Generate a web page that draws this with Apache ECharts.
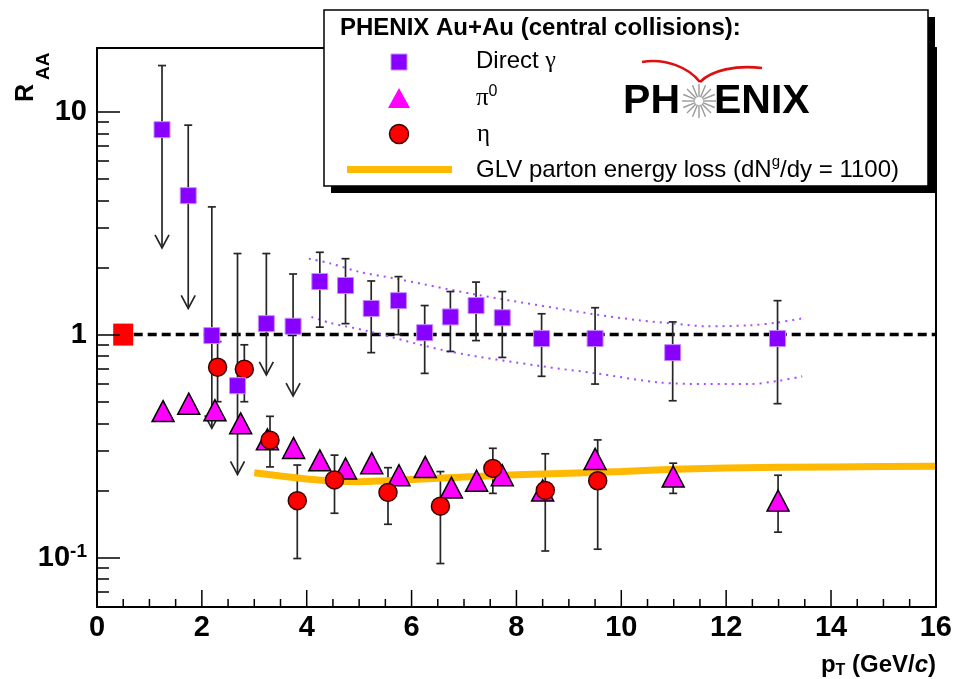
<!DOCTYPE html>
<html>
<head>
<meta charset="utf-8">
<script src="https://cdn.jsdelivr.net/npm/echarts@6.0.0/dist/echarts.min.js"></script>
<style>
  html, body { margin: 0; padding: 0; background: #fff; }
  #chart { width: 955px; height: 679px; }
</style>
</head>
<body>
<div id="chart"></div>
<script>
// direct photons (upper limits where gammaLimit = 1)
const gammaX = [1.24, 1.74, 2.19, 2.68, 3.23, 3.74, 4.25, 4.74, 5.23, 5.75, 6.25, 6.74, 7.23, 7.73, 8.48, 9.5, 10.98, 12.98];
const gammaY = [8.3, 4.2, 0.99, 0.59, 1.12, 1.09, 1.73, 1.66, 1.31, 1.42, 1.02, 1.20, 1.35, 1.19, 0.96, 0.96, 0.83, 0.96];
const gammaHi = [16.1, 8.7, 3.74, 2.31, 2.31, 1.87, 2.34, 2.19, 1.74, 1.82, 1.35, 1.56, 1.72, 1.56, 1.24, 1.32, 1.14, 1.42];
const gammaLo = [2.45, 1.31, 0.38, 0.236, 0.66, 0.53, 1.08, 1.12, 0.83, 1.0, 0.67, 0.84, 0.94, 0.79, 0.65, 0.60, 0.505, 0.49];
const gammaLimit = [1, 1, 1, 1, 1, 1, 0, 0, 0, 0, 0, 0, 0, 0, 0, 0, 0, 0];

// systematic band around direct photons
const bandUpX = [4.04, 4.44, 5.01, 5.71, 7.24, 9.52, 10.34, 11.0, 11.62, 12.44, 12.95, 13.43];
const bandUpY = [2.19, 2.09, 1.91, 1.78, 1.51, 1.23, 1.16, 1.12, 1.09, 1.10, 1.13, 1.18];
const bandLoX = [4.09, 4.44, 5.14, 6.72, 8.5, 9.52, 10.72, 11.62, 12.44, 13.0, 13.45];
const bandLoY = [1.20, 1.13, 1.04, 0.84, 0.72, 0.67, 0.61, 0.60, 0.60, 0.62, 0.65];

// pi0
const pi0X = [1.26, 1.75, 2.25, 2.74, 3.25, 3.75, 4.25, 4.74, 5.24, 5.76, 6.26, 6.76, 7.24, 7.73, 8.5, 9.5, 10.99, 12.99];
const pi0Y = [0.454, 0.49, 0.458, 0.40, 0.339, 0.31, 0.273, 0.251, 0.265, 0.234, 0.255, 0.206, 0.221, 0.234, 0.20, 0.277, 0.231, 0.18];
const pi0Hi = [null, null, null, null, null, null, null, null, null, null, null, null, null, null, null, null, 0.265, 0.234];
const pi0Lo = [null, null, null, null, null, null, null, null, null, null, null, null, null, null, null, null, 0.194, 0.13];

// eta
const etaX = [2.3, 2.81, 3.3, 3.82, 4.53, 5.55, 6.55, 7.55, 8.55, 9.55];
const etaY = [0.714, 0.70, 0.336, 0.18, 0.223, 0.196, 0.17, 0.251, 0.20, 0.221];
const etaHi = [0.93, 0.90, 0.43, 0.26, 0.288, 0.253, 0.243, 0.309, 0.292, 0.337];
const etaLo = [0.50, 0.50, 0.255, 0.099, 0.158, 0.141, 0.094, 0.194, 0.107, 0.109];

// GLV energy loss curve
const glvX = [3.0, 3.5, 4.0, 4.5, 5.0, 5.5, 6.0, 7.0, 8.0, 9.0, 10.0, 11.0, 12.0, 13.0, 14.0, 15.0, 16.0];
const glvY = [0.240, 0.232, 0.225, 0.220, 0.219, 0.221, 0.224, 0.230, 0.235, 0.239, 0.243, 0.249, 0.252, 0.254, 0.255, 0.256, 0.257];

// normalisation box and unity line
const normPoint = [0.5, 1];
const unityLine = [[0.7, 1], [16, 1]];

// axis ticks
const xTickValues = [0, 2, 4, 6, 8, 10, 12, 14, 16];
const xMinorTicks = [0.5, 1, 1.5, 2.5, 3, 3.5, 4.5, 5, 5.5, 6.5, 7, 7.5, 8.5, 9, 9.5, 10.5, 11, 11.5, 12.5, 13, 13.5, 14.5, 15, 15.5];
const yTickValues = [0.1, 1, 10];
const yTickLabels = ['10{sup|-1}', '1', '10'];
const yMinorTicks = [0.07, 0.08, 0.09, 0.2, 0.3, 0.4, 0.5, 0.6, 0.7, 0.8, 0.9, 2, 3, 4, 5, 6, 7, 8, 9];
const yMin = 0.06, yMax = 19.3;

const FONT = '"Liberation Sans", Arial, Helvetica, sans-serif';
const SERIF = '"Liberation Serif", "DejaVu Serif", serif';

const zip = (xs, ys) => xs.map((x, i) => [x, ys[i]]);

function errorItems(xs, ys, hi, lo, lim) {
    const out = [];
    xs.forEach((x, i) => {
        if (hi[i] == null) return;
        out.push([x, ys[i], hi[i], lo[i], lim ? lim[i] : 0]);
    });
    return out;
}

function renderErr(params, api) {
    const x = api.value(0);
    const top = api.coord([x, api.value(2)]);
    const bot = api.coord([x, api.value(3)]);
    const st = { stroke: '#262626', lineWidth: 1.7, fill: null };
    const kids = [
        { type: 'line', shape: { x1: top[0], y1: top[1], x2: bot[0], y2: bot[1] }, style: st },
        { type: 'line', shape: { x1: top[0] - 4, y1: top[1], x2: top[0] + 4, y2: top[1] }, style: st }
    ];
    if (api.value(4)) {
        kids.push({ type: 'polyline', shape: { points: [[bot[0] - 7, bot[1] - 13], [bot[0], bot[1]], [bot[0] + 7, bot[1] - 13]] }, style: st });
    } else {
        kids.push({ type: 'line', shape: { x1: bot[0] - 4, y1: bot[1], x2: bot[0] + 4, y2: bot[1] }, style: st });
    }
    return { type: 'group', children: kids };
}

// x-axis ticks, placed through the x scale on the bottom edge
function renderXTick(params, api) {
    const p = api.coord([api.value(0), yMin]);
    return {
        type: 'line',
        shape: { x1: p[0], y1: p[1], x2: p[0], y2: p[1] - api.value(1) },
        style: { stroke: '#000', lineWidth: 1.5 }
    };
}

const LMIN = Math.log10(yMin), LMAX = Math.log10(yMax);
const majorLog = yTickValues.map(Math.log10);
const minorLog = yMinorTicks.map(Math.log10);

const chart = echarts.init(document.getElementById('chart'));

// star of the logo
const starRays = [];
for (let k = 0; k < 16; k++) {
    const a = k * Math.PI / 8;
    starRays.push({
        type: 'line', z: 105,
        shape: { x1: 699 + 4 * Math.cos(a), y1: 101 + 4 * Math.sin(a), x2: 699 + 17 * Math.cos(a), y2: 101 + 17 * Math.sin(a) },
        style: { stroke: '#9a9a9a', lineWidth: 1.4 }
    });
}

const lineOnly = { show: true, onZero: false, lineStyle: { color: '#000', width: 2 } };

chart.setOption({
    animation: false,
    backgroundColor: '#fff',
    grid: { left: 97, right: 18, top: 48, bottom: 72, show: false },
    xAxis: [
        {
            type: 'value', min: 0, max: 16, position: 'bottom', z: 10,
            axisLine: lineOnly,
            axisTick: { show: false },
            axisLabel: { show: true, customValues: xTickValues, color: '#000', fontFamily: FONT, fontWeight: 'bold', fontSize: 29, margin: 6 },
            splitLine: { show: false }
        },
        {
            type: 'value', min: 0, max: 16, position: 'top', z: 10,
            axisLine: lineOnly, axisTick: { show: false }, axisLabel: { show: false }, splitLine: { show: false }
        }
    ],
    yAxis: [
        {
            type: 'log', logBase: 10, min: yMin, max: yMax, position: 'left', z: 10,
            axisLine: lineOnly,
            axisTick: { show: false }, axisLabel: { show: false }, splitLine: { show: false }
        },
        {
            type: 'value', min: LMIN, max: LMAX, position: 'left', z: 10,
            axisLine: { show: false, onZero: false },
            axisTick: { show: true, inside: true, length: 23, customValues: majorLog, lineStyle: { color: '#000', width: 1.5 } },
            axisLabel: {
                show: true, customValues: majorLog, margin: 10, color: '#000',
                fontFamily: FONT, fontWeight: 'bold', fontSize: 29, lineHeight: 30,
                formatter: v => {
                    const i = majorLog.findIndex(m => Math.abs(m - v) < 1e-6);
                    return i < 0 ? '' : yTickLabels[i];
                },
                rich: { sup: { fontFamily: FONT, fontWeight: 'bold', fontSize: 19, lineHeight: 19, verticalAlign: 'top', color: '#000' } }
            },
            splitLine: { show: false }
        },
        {
            type: 'value', min: LMIN, max: LMAX, position: 'left', z: 10,
            axisLine: { show: false, onZero: false },
            axisTick: { show: true, inside: true, length: 12, customValues: minorLog, lineStyle: { color: '#000', width: 1.5 } },
            axisLabel: { show: false },
            splitLine: { show: false }
        },
        {
            type: 'value', min: LMIN, max: LMAX, position: 'right', z: 10,
            axisLine: lineOnly, axisTick: { show: false }, axisLabel: { show: false }, splitLine: { show: false }
        }
    ],
    series: [
        {
            type: 'custom', renderItem: renderXTick, silent: true, z: 8, clip: false,
            data: xTickValues.map(v => [v, 17]).concat(xMinorTicks.map(v => [v, 8])),
            encode: { x: 0 }
        },
        {
            type: 'line', data: unityLine, symbol: 'none', silent: true, z: 1,
            lineStyle: { color: '#000', width: 3.5, type: [9, 5] }
        },
        {
            type: 'line', data: zip(bandUpX, bandUpY), symbol: 'none', smooth: 0.3, z: 1,
            lineStyle: { color: '#a64dff', width: 2, type: [2, 5] }
        },
        {
            type: 'line', data: zip(bandLoX, bandLoY), symbol: 'none', smooth: 0.3, z: 1,
            lineStyle: { color: '#a64dff', width: 2, type: [2, 5] }
        },
        { type: 'custom', renderItem: renderErr, data: errorItems(gammaX, gammaY, gammaHi, gammaLo, gammaLimit), z: 2, encode: { x: 0, y: 1 } },
        { type: 'custom', renderItem: renderErr, data: errorItems(etaX, etaY, etaHi, etaLo), z: 2, encode: { x: 0, y: 1 } },
        { type: 'custom', renderItem: renderErr, data: errorItems(pi0X, pi0Y, pi0Hi, pi0Lo), z: 2, encode: { x: 0, y: 1 } },
        {
            type: 'line', data: zip(glvX, glvY), symbol: 'none', z: 3,
            lineStyle: { color: '#ffb900', width: 7 }
        },
        {
            type: 'scatter', data: [normPoint], symbol: 'rect', symbolSize: [20, 22], z: 4,
            itemStyle: { color: '#ff0000', opacity: 1 }
        },
        {
            type: 'scatter', data: zip(pi0X, pi0Y), symbol: 'triangle', symbolSize: [22, 21], z: 5,
            itemStyle: { color: '#ff00ff', borderColor: '#000', borderWidth: 1.5, opacity: 1 }
        },
        {
            type: 'scatter', data: zip(etaX, etaY), symbol: 'circle', symbolSize: 18, z: 6,
            itemStyle: { color: '#ff0000', borderColor: '#3a0000', borderWidth: 1.5, opacity: 1 }
        },
        {
            type: 'scatter', data: zip(gammaX, gammaY), symbol: 'rect', symbolSize: 16, z: 7,
            itemStyle: { color: '#8800ff', borderColor: '#c58cff', borderWidth: 1, opacity: 1 }
        }
    ],
    graphic: [
        // axis titles
        {
            type: 'text', x: 26, y: 102, rotation: Math.PI / 2, z: 100,
            style: { text: 'R', fontFamily: FONT, fontWeight: 'bold', fontSize: 25, fill: '#000', align: 'left', verticalAlign: 'middle' }
        },
        {
            type: 'text', x: 44, y: 80, rotation: Math.PI / 2, z: 100,
            style: { text: 'AA', fontFamily: FONT, fontWeight: 'bold', fontSize: 19, fill: '#000', align: 'left', verticalAlign: 'middle' }
        },
        {
            type: 'text', x: 936, y: 665, z: 100,
            style: {
                text: '{b|p}{s|T}{b| (GeV/}{i|c}{b|)}', align: 'right', verticalAlign: 'middle',
                rich: {
                    b: { fontFamily: FONT, fontWeight: 'bold', fontSize: 24, lineHeight: 28, fill: '#000' },
                    i: { fontFamily: FONT, fontWeight: 'bold', fontStyle: 'italic', fontSize: 24, lineHeight: 28, fill: '#000' },
                    s: { fontFamily: FONT, fontWeight: 'bold', fontSize: 16, lineHeight: 16, verticalAlign: 'bottom', fill: '#000' }
                }
            }
        },
        // legend box
        { type: 'rect', z: 101, shape: { x: 331, y: 17, width: 604, height: 176 }, style: { fill: '#000' } },
        { type: 'rect', z: 102, shape: { x: 324, y: 10, width: 604, height: 176 }, style: { fill: '#fff', stroke: '#000', lineWidth: 1.5 } },
        {
            type: 'text', x: 340, y: 28, z: 103,
            style: { text: 'PHENIX Au+Au (central collisions):', fontFamily: FONT, fontWeight: 'bold', fontSize: 24, fill: '#000', align: 'left', verticalAlign: 'middle' }
        },
        { type: 'rect', z: 103, shape: { x: 391, y: 54, width: 16, height: 16 }, style: { fill: '#8800ff', stroke: '#c58cff', lineWidth: 1 } },
        { type: 'polygon', z: 103, shape: { points: [[399, 88], [410, 108], [388, 108]] }, style: { fill: '#ff00ff' } },
        { type: 'circle', z: 103, shape: { cx: 399, cy: 134, r: 9.5 }, style: { fill: '#ff0000', stroke: '#3a0000', lineWidth: 1.5 } },
        { type: 'line', z: 103, shape: { x1: 347, y1: 169.5, x2: 452, y2: 169.5 }, style: { stroke: '#ffb900', lineWidth: 7 } },
        {
            type: 'text', x: 476, y: 61, z: 103,
            style: {
                text: '{t|Direct }{g|γ}', align: 'left', verticalAlign: 'middle',
                rich: { t: { fontFamily: FONT, fontSize: 24, fill: '#000' }, g: { fontFamily: SERIF, fontSize: 24, fill: '#000' } }
            }
        },
        {
            type: 'text', x: 476, y: 98, z: 103,
            style: {
                text: '{g|π}{s|0}', align: 'left', verticalAlign: 'middle',
                rich: {
                    g: { fontFamily: SERIF, fontSize: 25, lineHeight: 28, fill: '#000' },
                    s: { fontFamily: FONT, fontSize: 16, lineHeight: 14, verticalAlign: 'top', fill: '#000' }
                }
            }
        },
        {
            type: 'text', x: 477, y: 134, z: 103,
            style: { text: 'η', fontFamily: SERIF, fontSize: 25, fill: '#000', align: 'left', verticalAlign: 'middle' }
        },
        {
            type: 'text', x: 476, y: 170, z: 103,
            style: {
                text: '{t|GLV parton energy loss (dN}{s|g}{t|/dy = 1100)}', align: 'left', verticalAlign: 'middle',
                rich: {
                    t: { fontFamily: FONT, fontSize: 24, lineHeight: 32, fill: '#000' },
                    s: { fontFamily: FONT, fontSize: 15, lineHeight: 12, verticalAlign: 'top', fill: '#000' }
                }
            }
        },
        // PHENIX logo
        {
            type: 'bezierCurve', z: 104,
            shape: { x1: 642, y1: 62, cpx1: 665, cpy1: 58, cpx2: 688, cpy2: 67, x2: 700, y2: 82 },
            style: { stroke: '#dd1010', lineWidth: 2.6, fill: null }
        },
        {
            type: 'bezierCurve', z: 104,
            shape: { x1: 700, y1: 82, cpx1: 712, cpy1: 70, cpx2: 736, cpy2: 65, x2: 762, y2: 68 },
            style: { stroke: '#dd1010', lineWidth: 2.6, fill: null }
        },
        {
            type: 'text', x: 680, y: 102, z: 104,
            style: { text: 'PH', fontFamily: FONT, fontWeight: 'bold', fontSize: 41, fill: '#000', align: 'right', verticalAlign: 'middle' }
        },
        {
            type: 'text', x: 714, y: 102, z: 104,
            style: { text: 'ENIX', fontFamily: FONT, fontWeight: 'bold', fontSize: 41, fill: '#000', align: 'left', verticalAlign: 'middle' }
        }
    ].concat(starRays)
});
</script>
</body>
</html>
